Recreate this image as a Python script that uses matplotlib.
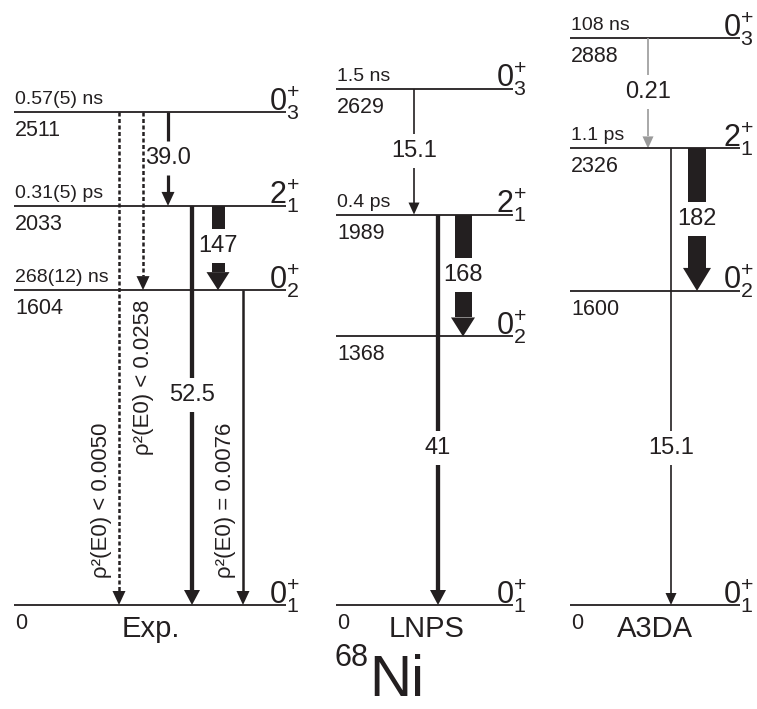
import matplotlib.pyplot as plt
from matplotlib.patches import Polygon

plt.rcParams['font.family'] = ['Liberation Sans', 'DejaVu Sans']
plt.rcParams['mathtext.fontset'] = 'custom'
plt.rcParams['mathtext.rm'] = 'Liberation Sans'
plt.rcParams['mathtext.it'] = 'Liberation Sans:italic'

INK = '#231f20'

# ---- data: level energies (keV), spins, lifetimes ----
exp_energy = [0, 1604, 2033, 2511]
exp_spin = [(0, 1), (0, 2), (2, 1), (0, 3)]
exp_life = ['', '268(12) ns', '0.31(5) ps', '0.57(5) ns']

lnps_energy = [0, 1368, 1989, 2629]
lnps_spin = [(0, 1), (0, 2), (2, 1), (0, 3)]
lnps_life = ['', '', '0.4 ps', '1.5 ns']

a3da_energy = [0, 1600, 2326, 2888]
a3da_spin = [(0, 1), (0, 2), (2, 1), (0, 3)]
a3da_life = ['', '', '1.1 ps', '108 ns']

# transitions: (from, to, label)
exp_trans = [(2511, 2033, '39.0'), (2511, 0, ''), (2511, 1604, ''),
             (2033, 1604, '147'), (2033, 0, '52.5'), (1604, 0, '')]
lnps_trans = [(2629, 1989, '15.1'), (1989, 0, '41'), (1989, 1368, '168')]
a3da_trans = [(2888, 2326, '0.21'), (2326, 0, '15.1'), (2326, 1600, '182')]

e0_labels = [u'\u03c1\u00b2(E0) < 0.0050', u'\u03c1\u00b2(E0) < 0.0258',
             u'\u03c1\u00b2(E0) = 0.0076']

scheme_names = ['Exp.', 'LNPS', 'A3DA']

# ---- layout (pixels) ----
PX = 0.1963          # pixels per keV
Y0 = 605             # pixel row of the 0 keV level
W, H = 757, 709


def y2e(y):
    return (Y0 - y) / PX


def px(n):
    return n / PX


# arrow styles
STY = {
    'thin': dict(lw=1.2, hw=11, hl=12, c=INK, ls='-'),
    'gray': dict(lw=1.2, hw=11, hl=12, c='#9a9a9a', ls='-'),
    'mid': dict(lw=2.3, hw=13, hl=14, c=INK, ls='-'),
    'line': dict(lw=1.8, hw=13, hl=14, c=INK, ls='-'),
    'thick': dict(lw=3.1, hw=16, hl=15, c=INK, ls='-'),
    'dash': dict(lw=1.8, hw=13, hl=14, c=INK, ls=(0, (1.6, 1.0))),
}

fig = plt.figure(figsize=(W / 100, H / 100), dpi=100)
ax = fig.add_axes([0, 0, 1, 1])
ax.set_xlim(0, W)
ax.set_ylim(y2e(H), y2e(0))
ax.axis('off')


def level(x0, x1, e, spin, life):
    ax.plot([x0, x1], [e, e], color=INK, lw=1.3, solid_capstyle='butt')
    ax.text(x0 + 1, e - px(8), str(e), ha='left', va='top', fontsize=15.5, color=INK)
    if life:
        ax.text(x0 + 1, e + px(8), life, ha='left', va='baseline', fontsize=14, color=INK)
    j, k = spin
    ax.text(x1 + 14, e + px(2), r'$%d^{+}_{%d}$' % (j, k), ha='right', va='baseline',
            fontsize=22, color=INK)


def transition(x, ef, et, kind, label='', ly=None, bw=None):
    gap = 17
    if kind == 'wide':
        hw, hl = bw[1], bw[2]
        hb = et + px(hl)
        le = y2e(ly)
        segs = [(ef, le + px(gap)), (le - px(gap), hb)]
        for a, b in segs:
            ax.add_patch(Polygon([(x - bw[0] / 2, a), (x + bw[0] / 2, a),
                                  (x + bw[0] / 2, b), (x - bw[0] / 2, b)],
                                 closed=True, color=INK, lw=0))
        ax.add_patch(Polygon([(x - hw / 2, hb), (x + hw / 2, hb), (x, et)],
                             closed=True, color=INK, lw=0))
        ax.text(x, le, label, ha='center', va='center', fontsize=17, color=INK)
        return
    s = STY[kind]
    hb = et + px(s['hl'])
    if label:
        le = y2e(ly)
        segs = [(ef, le + px(gap)), (le - px(gap), hb)]
        ax.text(x, le, label, ha='center', va='center', fontsize=17, color=INK)
    else:
        segs = [(ef, hb)]
    for a, b in segs:
        ax.plot([x, x], [a, b], color=s['c'], lw=s['lw'], ls=s['ls'],
                solid_capstyle='butt', dash_capstyle='butt')
    ax.add_patch(Polygon([(x - s['hw'] / 2, hb), (x + s['hw'] / 2, hb), (x, et)],
                         closed=True, color=s['c'], lw=0))


# ---- Exp. ----
for e, sp, lf in zip(exp_energy, exp_spin, exp_life):
    level(14, 286, e, sp, lf)
exp_x = [168, 119, 143, 218, 192, 243]
exp_kind = ['mid', 'dash', 'dash', 'wide', 'thick', 'line']
exp_ly = [158, None, None, 246, 395, None]
for (ef, et, lab), x, k, ly in zip(exp_trans, exp_x, exp_kind, exp_ly):
    transition(x, ef, et, k, lab, ly, bw=(13, 23, 18))

e0_pos = [(101, 500), (144, 377), (225, 500)]
for t, (x, y) in zip(e0_labels, e0_pos):
    ax.text(x, y2e(y), t, rotation=90, ha='center', va='center', fontsize=16,
            color=INK, rotation_mode='anchor')

# ---- LNPS ----
for e, sp, lf in zip(lnps_energy, lnps_spin, lnps_life):
    level(336, 513, e, sp, lf)
lnps_x = [414, 438, 463]
lnps_kind = ['thin', 'thick', 'wide']
lnps_ly = [151, 448, 275]
for (ef, et, lab), x, k, ly in zip(lnps_trans, lnps_x, lnps_kind, lnps_ly):
    transition(x, ef, et, k, lab, ly, bw=(17, 24, 19))

# ---- A3DA ----
for e, sp, lf in zip(a3da_energy, a3da_spin, a3da_life):
    level(570, 740, e, sp, lf)
a3da_x = [648, 671, 697]
a3da_kind = ['gray', 'thin', 'wide']
a3da_ly = [92, 448, 219]
for (ef, et, lab), x, k, ly in zip(a3da_trans, a3da_x, a3da_kind, a3da_ly):
    transition(x, ef, et, k, lab, ly, bw=(18, 28, 23))

# ---- scheme names and nucleus ----
for name, xc in zip(scheme_names, [151, 427, 655]):
    ax.text(xc, y2e(637), name, ha='center', va='baseline', fontsize=21, color=INK)

ax.text(369, y2e(666), '68', ha='right', va='baseline', fontsize=22, color=INK)
ax.text(369, y2e(696), 'Ni', ha='left', va='baseline', fontsize=42, color=INK)

fig.savefig('out.png', dpi=100)
